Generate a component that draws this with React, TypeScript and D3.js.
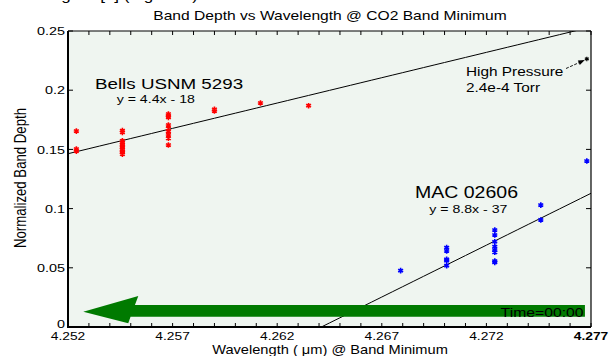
import React from "react";
import * as d3 from "d3";

// Bells USNM 5293 (red)
const bellsWave = [
  4.2524, 4.2524, 4.2524,
  4.2546, 4.2546, 4.2546, 4.2546, 4.2546, 4.2546, 4.2546, 4.2546, 4.2546, 4.2546, 4.2546,
  4.2568, 4.2568, 4.2568, 4.2568, 4.2568, 4.2568, 4.2568, 4.2568, 4.2568,
  4.259, 4.259, 4.2612, 4.2635,
];
const bellsDepth = [
  0.1655, 0.1503, 0.1486,
  0.1658, 0.1644, 0.1573, 0.1557, 0.1543, 0.1529, 0.1514, 0.1501, 0.1486, 0.1472, 0.1459,
  0.1799, 0.1782, 0.1771, 0.1706, 0.1678, 0.165, 0.1622, 0.1594, 0.1537,
  0.1839, 0.1824, 0.1892, 0.1869,
];

// MAC 02606 (blue)
const macWave = [
  4.2679,
  4.2701, 4.2701, 4.2701, 4.2701, 4.2701,
  4.2724, 4.2724, 4.2724, 4.2724, 4.2724, 4.2724, 4.2724, 4.2724,
  4.2746, 4.2746, 4.2768,
];
const macDepth = [
  0.0476,
  0.067, 0.0642, 0.0572, 0.056, 0.0518,
  0.0819, 0.0777, 0.072, 0.0678, 0.065, 0.0631, 0.0557, 0.0546,
  0.103, 0.0904, 0.1402,
];

// high pressure point
const hpWave = [4.2768];
const hpDepth = [0.2264];

// linear fits  y = a*x + b
const bellsFit = [4.28, -18.0522];
const macFit = [8.76, -37.3536];

const xTicks = [4.252, 4.257, 4.262, 4.267, 4.272];
const yTicks = [0, 0.05, 0.1, 0.15, 0.2, 0.25];

const W = 616;
const H = 356;
const SX = 1.22; // picture is stretched horizontally
const FONT = "'Liberation Sans', Arial, Helvetica, sans-serif";

const x = d3.scaleLinear().domain([4.252, 4.277]).range([68, 591]);
const y = d3.scaleLinear().domain([0, 0.25]).range([327, 31]);

type TProps = {
  x: number;
  y: number;
  size: number;
  anchor?: "start" | "middle" | "end";
  weight?: string;
  rotate?: boolean;
  dy?: string;
  children: React.ReactNode;
};

const T = ({ x, y, size, anchor = "start", weight, rotate, dy, children }: TProps) => (
  <g transform={`translate(${x},${y}) scale(${SX},1)${rotate ? " rotate(-90)" : ""}`}>
    <text
      textAnchor={anchor}
      fontSize={size}
      fontFamily={FONT}
      fontWeight={weight}
      dy={dy}
      fill="#000"
    >
      {children}
    </text>
  </g>
);

const fitPath = (fit: number[]) => {
  const xs = d3.range(4.252, 4.2771, 0.0005);
  const line = d3
    .line<number>()
    .x((d) => x(d))
    .y((d) => y(fit[0] * d + fit[1]));
  return line(xs) || "";
};

const star = d3.symbol(d3.symbolAsterisk, 22);

const App = () => {
  const [x0, x1] = x.range();
  const [y0, y1] = y.range();
  const minor = d3.range(4.252, 4.2771, 0.001);

  // green "time" arrow, in data units
  const arrow: [number, number][] = [
    [4.25273, 0.0129],
    [4.25536, 0.0262],
    [4.2552, 0.0186],
    [4.27671, 0.0186],
    [4.27671, 0.0086],
    [4.25499, 0.0086],
    [4.25488, 0.0031],
  ];

  return (
    <svg
      width={W}
      height={H}
      style={{ position: "absolute", left: 0, top: 0, background: "#fff" }}
    >
      <defs>
        <clipPath id="plot">
          <rect x={x0} y={y1} width={x1 - x0} height={y0 - y1} />
        </clipPath>
      </defs>

      {/* caption above the figure, mostly cut off by the page edge */}
      <T x={47} y={-0.5} size={14}>
        Figure [4] (Figure 5)
      </T>

      <rect x={x0} y={y1} width={x1 - x0} height={y0 - y1} fill="#eff5f0" />

      <T x={330} y={20} size={12.8} anchor="middle">
        Band Depth vs Wavelength @ CO2 Band Minimum
      </T>

      <g clipPath="url(#plot)">
        <path d={fitPath(bellsFit)} stroke="#000" strokeWidth={1} fill="none" />
        <path d={fitPath(macFit)} stroke="#000" strokeWidth={1} fill="none" />
      </g>

      <polygon
        points={arrow.map(([a, b]) => `${x(a)},${y(b)}`).join(" ")}
        fill="#007a00"
      />
      <T x={583.5} y={316.5} size={12.9} anchor="end">
        Time=00:00
      </T>

      {bellsWave.map((w, i) => (
        <path
          key={"b" + i}
          d={star() || ""}
          transform={`translate(${x(w)},${y(bellsDepth[i])})`}
          stroke="#ff0000"
          strokeWidth={1.6}
          fill="none"
        />
      ))}
      {macWave.map((w, i) => (
        <path
          key={"m" + i}
          d={star() || ""}
          transform={`translate(${x(w)},${y(macDepth[i])})`}
          stroke="#0000ff"
          strokeWidth={1.6}
          fill="none"
        />
      ))}
      {hpWave.map((w, i) => (
        <path
          key={"h" + i}
          d={d3.symbol(d3.symbolAsterisk, 14)() || ""}
          transform={`translate(${x(w)},${y(hpDepth[i])})`}
          stroke="#000"
          strokeWidth={1.2}
          fill="none"
        />
      ))}

      {/* annotation arrow */}
      <line
        x1={566}
        y1={68.5}
        x2={x(hpWave[0]) - 4}
        y2={y(hpDepth[0]) + 2}
        stroke="#000"
        strokeWidth={0.9}
        strokeDasharray="3 1.5"
      />
      <polygon
        points={`${x(hpWave[0]) - 2},${y(hpDepth[0]) + 1} ${x(hpWave[0]) - 9},${y(hpDepth[0]) + 1.5} ${x(hpWave[0]) - 7},${y(hpDepth[0]) + 6}`}
        fill="#000"
      />

      <T x={95} y={88.5} size={15.4}>Bells USNM 5293</T>
      <T x={116.7} y={103} size={11.6}>y = 4.4x - 18</T>
      <T x={415} y={197.5} size={16}>MAC 02606</T>
      <T x={429.3} y={212.5} size={11.6}>y = 8.8x - 37</T>
      <T x={466} y={76} size={12.6}>High Pressure</T>
      <T x={466} y={91.5} size={12.6}>2.4e-4 Torr</T>

      {/* ticks */}
      <g stroke="#000" strokeWidth={1}>
        {minor.map((t, i) => (
          <g key={"xt" + i}>
            <line x1={x(t)} x2={x(t)} y1={y0} y2={y0 - 4} />
            <line x1={x(t)} x2={x(t)} y1={y1} y2={y1 + 4} />
          </g>
        ))}
        {yTicks.map((t, i) => (
          <g key={"yt" + i}>
            <line x1={x0} x2={x0 + 5} y1={y(t)} y2={y(t)} />
            <line x1={x1} x2={x1 - 5} y1={y(t)} y2={y(t)} />
          </g>
        ))}
      </g>

      {/* frame */}
      <line x1={x0} x2={x1} y1={y1} y2={y1} stroke="#000" strokeWidth={1.2} />
      <line x1={x1} x2={x1} y1={y1} y2={y0} stroke="#000" strokeWidth={1.2} />
      <line x1={x0} x2={x0} y1={y1} y2={y0 + 1} stroke="#000" strokeWidth={2} />
      <line x1={x0 - 1} x2={x1} y1={y0} y2={y0} stroke="#000" strokeWidth={2} />

      {yTicks.map((t, i) => (
        <T key={"yl" + i} x={65} y={y(t) - (t === 0 ? 3 : 0)} size={11.8} anchor="end" dy="0.35em">
          {t === 0 ? "0" : String(t)}
        </T>
      ))}
      {xTicks.map((t, i) => (
        <T key={"xl" + i} x={x(t)} y={339.5} size={11.3} anchor="middle">
          {t.toFixed(3)}
        </T>
      ))}
      <T x={x(4.277)} y={339.5} size={11.3} anchor="middle" weight="bold">
        4.277
      </T>

      <T x={330} y={353.5} size={12} anchor="middle">
        Wavelength ( μm) @ Band Minimum
      </T>
      <T x={26} y={178} size={13.2} anchor="middle" rotate>
        Normalized Band Depth
      </T>
    </svg>
  );
};

export default App;
